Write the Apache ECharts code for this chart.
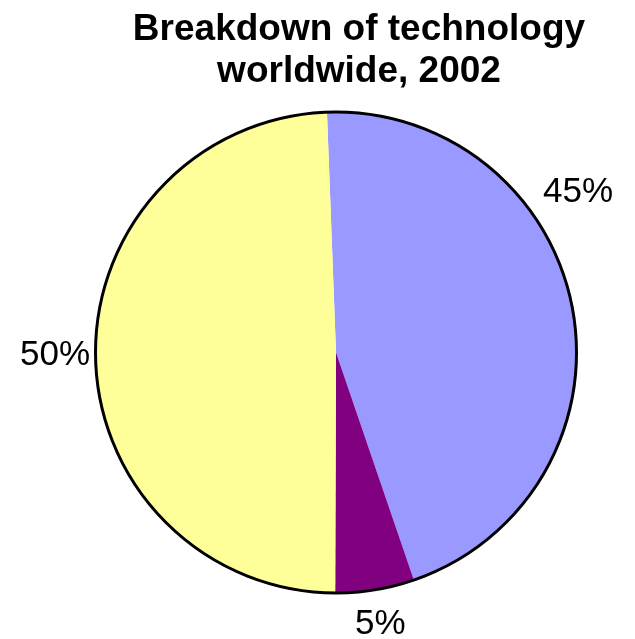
<!DOCTYPE html>
<html>
<head>
<meta charset="utf-8">
<script src="https://cdn.jsdelivr.net/npm/echarts@6/dist/echarts.min.js"></script>
<style>
  html, body { margin: 0; padding: 0; background: #ffffff; }
  #chart { width: 635px; height: 639px; }
</style>
</head>
<body>
<div id="chart"></div>
<script>
// ---- data ----
const categories = ['Blue segment', 'Purple segment', 'Yellow segment'];
const shares = [45.35, 5.3, 49.35];
const labelTexts = ['45%', '5%', '50%'];
const titleLines = ['Breakdown of technology', 'worldwide, 2002'];

// ---- style ----
const colors = ['#9999FF', '#800080', '#FFFF99'];
const labelOffsets = [[-34.5, -116], [-25, 35], [-0.5, -1]];
const FONT = '"Liberation Sans", Arial, sans-serif';

const chart = echarts.init(document.getElementById('chart'), null, { renderer: 'canvas' });

const option = {
  backgroundColor: '#ffffff',
  animation: false,
  title: {
    text: titleLines.join('\n'),
    left: 354,
    top: 4,
    textAlign: 'center',
    textStyle: {
      fontFamily: FONT,
      fontWeight: 'bold',
      fontSize: 37,
      lineHeight: 42,
      color: '#000000'
    }
  },
  series: [
    {
      type: 'pie',
      center: [336, 352.5],
      radius: [0, 240.5],
      startAngle: 92.15,
      clockwise: true,
      avoidLabelOverlap: false,
      itemStyle: { borderWidth: 0 },
      label: {
        show: true,
        position: 'outside',
        fontFamily: FONT,
        fontSize: 35,
        color: '#000000',
        distanceToLabelLine: 5,
        formatter: function (p) { return labelTexts[p.dataIndex]; }
      },
      labelLine: { show: false, length: 0, length2: 0 },
      labelLayout: function (p) {
        const o = labelOffsets[p.dataIndex];
        return { dx: o[0], dy: o[1] };
      },
      emphasis: { disabled: true },
      data: categories.map(function (c, i) {
        return { name: c, value: shares[i], itemStyle: { color: colors[i] } };
      })
    },
    {
      type: 'pie',
      center: [336, 352.5],
      radius: [0, 240.5],
      silent: true,
      label: { show: false },
      labelLine: { show: false },
      emphasis: { disabled: true },
      itemStyle: { color: 'rgba(0,0,0,0)', borderColor: '#000000', borderWidth: 3 },
      data: [{ name: 'outline', value: 1 }]
    }
  ]
};

chart.setOption(option);
</script>
</body>
</html>
